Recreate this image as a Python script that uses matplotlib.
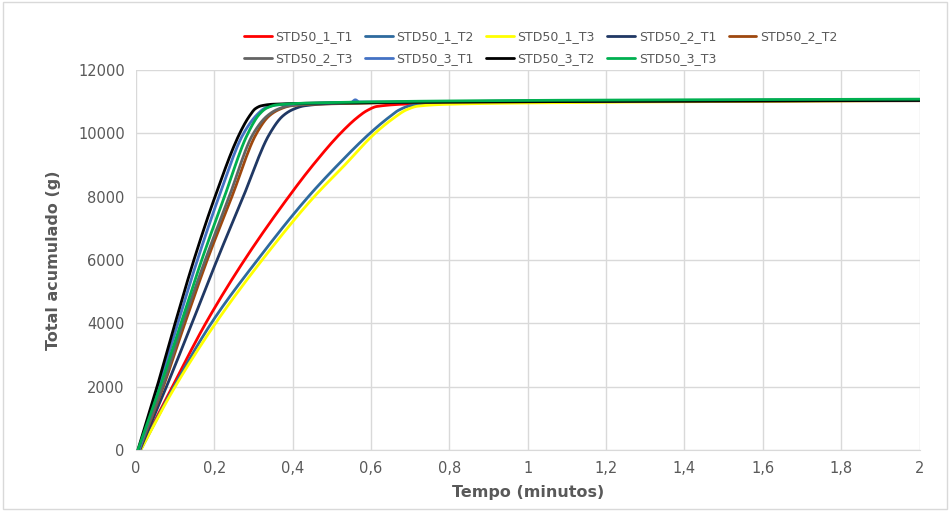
import matplotlib.pyplot as plt
import numpy as np

# tempo (minutos) e total acumulado (g)
t_1_T1 = [0.01, 0.093, 0.178, 0.277, 0.39, 0.452, 0.522, 0.565, 0.59, 0.615, 0.7, 1.0, 2.0]
y_1_T1 = [0, 2000, 4000, 6000, 8000, 9000, 10000, 10500, 10720, 10850, 10930, 10990, 11050]

t_1_T2 = [0.012, 0.097, 0.192, 0.31, 0.44, 0.515, 0.597, 0.645, 0.672, 0.7, 0.78, 1.0, 2.0]
y_1_T2 = [0, 2000, 4000, 6000, 8000, 9000, 10000, 10500, 10740, 10870, 10940, 10980, 11050]

t_1_T3 = [0.012, 0.1, 0.203, 0.322, 0.455, 0.533, 0.61, 0.66, 0.69, 0.72, 0.8, 1.0, 2.0]
y_1_T3 = [0, 2000, 4000, 6000, 8000, 9000, 10000, 10500, 10740, 10860, 10920, 10960, 11040]

t_2_T1 = [0.01, 0.078, 0.143, 0.207, 0.274, 0.342, 0.375, 0.4, 0.43, 0.5, 1.0, 2.0]
y_2_T1 = [0, 2000, 4000, 6000, 8000, 10000, 10550, 10750, 10870, 10940, 11020, 11060]

t_2_T2 = [0.008, 0.07, 0.125, 0.182, 0.245, 0.308, 0.34, 0.365, 0.395, 0.45, 1.0, 2.0]
y_2_T2 = [0, 2000, 4000, 6000, 8000, 10000, 10550, 10750, 10870, 10920, 11000, 11030]

t_2_T3 = [0.008, 0.068, 0.12, 0.177, 0.238, 0.3, 0.335, 0.36, 0.39, 0.45, 1.0, 2.0]
y_2_T3 = [0, 2000, 4000, 6000, 8000, 10000, 10550, 10750, 10870, 10930, 11010, 11040]

t_3_T1 = [0.008, 0.058, 0.107, 0.157, 0.212, 0.275, 0.31, 0.33, 0.36, 0.45, 0.55, 0.56, 0.57, 1.0, 2.0]
y_3_T1 = [0, 2000, 4000, 6000, 8000, 10000, 10600, 10800, 10900, 10950, 10980, 11060, 10990, 11020, 11060]

t_3_T2 = [0.005, 0.054, 0.1, 0.148, 0.202, 0.265, 0.29, 0.305, 0.32, 0.35, 0.5, 1.0, 2.0]
y_3_T2 = [0, 2000, 4000, 6000, 8000, 10000, 10550, 10780, 10870, 10920, 10960, 11000, 11040]

t_3_T3 = [0.005, 0.062, 0.115, 0.168, 0.226, 0.286, 0.315, 0.334, 0.36, 0.45, 1.0, 2.0]
y_3_T3 = [0, 2000, 4000, 6000, 8000, 10000, 10600, 10800, 10900, 10960, 11040, 11080]

series = [
    ("STD50_1_T1", t_1_T1, y_1_T1, "#FF0000"),
    ("STD50_1_T2", t_1_T2, y_1_T2, "#2E6A9E"),
    ("STD50_1_T3", t_1_T3, y_1_T3, "#FFFF00"),
    ("STD50_2_T1", t_2_T1, y_2_T1, "#203864"),
    ("STD50_2_T2", t_2_T2, y_2_T2, "#9E480E"),
    ("STD50_2_T3", t_2_T3, y_2_T3, "#636363"),
    ("STD50_3_T1", t_3_T1, y_3_T1, "#4472C4"),
    ("STD50_3_T2", t_3_T2, y_3_T2, "#000000"),
    ("STD50_3_T3", t_3_T3, y_3_T3, "#00B050"),
]


def suavizar(x, y, n=12):
    # linha suavizada tipo Excel: cubica monotona (Fritsch-Carlson) entre os pontos
    x = np.asarray(x, float)
    y = np.asarray(y, float)
    h = np.diff(x)
    d = np.diff(y) / h
    m = np.zeros_like(y)
    m[0], m[-1] = d[0], d[-1]
    for i in range(1, len(x) - 1):
        if d[i - 1] * d[i] > 0:
            w1 = 2 * h[i] + h[i - 1]
            w2 = h[i] + 2 * h[i - 1]
            m[i] = (w1 + w2) / (w1 / d[i - 1] + w2 / d[i])
    xs, ys = [], []
    for i in range(len(x) - 1):
        s = np.linspace(0, 1, n, endpoint=False)
        h00 = 2 * s**3 - 3 * s**2 + 1
        h10 = s**3 - 2 * s**2 + s
        h01 = -2 * s**3 + 3 * s**2
        h11 = s**3 - s**2
        xs.append(x[i] + s * h[i])
        ys.append(h00 * y[i] + h10 * h[i] * m[i] + h01 * y[i + 1] + h11 * h[i] * m[i + 1])
    xs.append([x[-1]])
    ys.append([y[-1]])
    return np.concatenate(xs), np.concatenate(ys)


plt.rcParams['font.family'] = ['DejaVu Sans']
fig = plt.figure(figsize=(9.5, 5.11), dpi=100)
ax = fig.add_axes([0.143, 0.119, 0.825, 0.744])

linhas = []
for nome, t, y, cor in series:
    xs, ys = suavizar(t, y)
    l, = ax.plot(xs, ys, color=cor, lw=2, label=nome, solid_capstyle='round', solid_joinstyle='round')
    linhas.append(l)

ax.set_xlim(0, 2)
ax.set_ylim(0, 12000)
ax.set_xticks(np.arange(0, 2.01, 0.2))
ax.set_xticklabels(["0", "0,2", "0,4", "0,6", "0,8", "1", "1,2", "1,4", "1,6", "1,8", "2"])
ax.set_yticks(range(0, 12001, 2000))
ax.grid(color="#D9D9D9", lw=1)
ax.set_axisbelow(True)
for s in ['top', 'right', 'left']:
    ax.spines[s].set_visible(False)
ax.spines['bottom'].set_color("#D9D9D9")
ax.tick_params(length=0, colors="#595959", labelsize=10.5, pad=8)

ax.set_xlabel("Tempo (minutos)", fontsize=11.5, fontweight='bold', color="#595959", labelpad=6)
ax.set_ylabel("Total acumulado (g)", fontsize=11.5, fontweight='bold', color="#595959", labelpad=12)

# legenda preenchida por linhas (como no Excel)
ordem = [0, 5, 1, 6, 2, 7, 3, 8, 4]
leg = fig.legend([linhas[i] for i in ordem], [series[i][0] for i in ordem],
                 loc='upper left', bbox_to_anchor=(0.245, 0.963), ncol=5, frameon=False,
                 fontsize=9, handlelength=2.2, handletextpad=0.3, columnspacing=1.0,
                 labelspacing=0.7)
for txt in leg.get_texts():
    txt.set_color("#595959")

fig.patches.append(plt.Rectangle((0.003, 0.003), 0.994, 0.994, transform=fig.transFigure,
                                 fill=False, edgecolor="#D9D9D9", lw=1))

fig.savefig("out.png", dpi=100)
